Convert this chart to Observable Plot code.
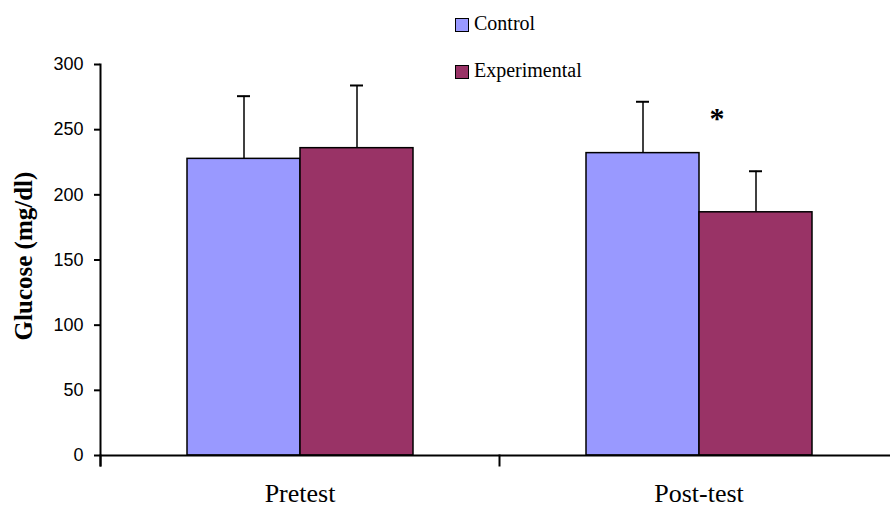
<!DOCTYPE html>
<html>
<head>
<meta charset="utf-8">
<script src="https://cdn.jsdelivr.net/npm/d3@7"></script>
<script src="https://cdn.jsdelivr.net/npm/@observablehq/plot@0.6"></script>
<style>
  html, body { margin: 0; padding: 0; background: #fff; overflow: hidden; }
  #wrap { position: relative; width: 890px; height: 508px; overflow: hidden; }
  #chart { position: absolute; left: 0; top: 0; width: 898px; }
  #chart svg { max-width: none !important; }
  .ylabel { position: absolute; left: 24px; top: 256px; transform: translate(-50%, -50%) rotate(-90deg);
            font-family: "Liberation Serif", "Times New Roman", serif; font-weight: bold; font-size: 25px;
            white-space: nowrap; color: #000; }
  .leg-sw { position: absolute; width: 12px; height: 12px; border: 1px solid #000; }
  .leg-tx { position: absolute; font-family: "Liberation Serif", "Times New Roman", serif; font-size: 20px;
            line-height: 20px; color: #000; white-space: nowrap; }
</style>
</head>
<body>
<div id="wrap">
  <div id="chart"></div>
  <div class="ylabel">Glucose (mg/dl)</div>
  <div id="legend"></div>
</div>
<script>
// ---- data ----
const times = ["Pretest", "Post-test"];
const groups = ["Control", "Experimental"];
const controlMeans = [227.6, 232.0];
const experimentalMeans = [235.8, 186.6];
const controlErrors = [48.1, 39.4];
const experimentalErrors = [48.1, 31.5];
const yTicks = [0, 50, 100, 150, 200, 250, 300];
const colors = ["#9999ff", "#993366"];
const significance = [{time: "Post-test", group: "Experimental", y: 259, label: "*"}];

const rows = [];
times.forEach((t, i) => {
  rows.push({time: t, group: groups[0], value: controlMeans[i], upper: controlMeans[i] + controlErrors[i]});
  rows.push({time: t, group: groups[1], value: experimentalMeans[i], upper: experimentalMeans[i] + experimentalErrors[i]});
});

const plot = Plot.plot({
  width: 898,
  height: 508,
  marginTop: 64,
  marginBottom: 53,
  marginLeft: 100,
  marginRight: 0,
  style: {background: "transparent", overflow: "visible", maxWidth: "none"},
  fx: {domain: times, padding: 0, label: null},
  x: {domain: groups, paddingInner: 0, paddingOuter: 0.76, axis: null},
  y: {domain: [0, 300], axis: null},
  color: {domain: groups, range: colors},
  marks: [
    Plot.barY(rows, {fx: "time", x: "group", y: "value", fill: "group", stroke: "black", strokeWidth: 1.5}),
    Plot.ruleX(rows, {fx: "time", x: "group", y1: "value", y2: "upper", stroke: "black", strokeWidth: 1.5}),
    Plot.tickY(rows, {fx: "time", x: "group", y: "upper", stroke: "black", strokeWidth: 2, insetLeft: 50, insetRight: 50}),
    Plot.text(significance, {fx: "time", x: "group", y: "y", text: "label", dx: -39,
      fontSize: 30, fontWeight: "bold", fontFamily: "Liberation Serif, Times New Roman, serif", fill: "black"}),
    Plot.ruleY([0], {stroke: "black", strokeWidth: 2}),
    Plot.frame({anchor: "left", facetAnchor: "left", stroke: "black", strokeWidth: 2, insetBottom: -10}),
    Plot.frame({anchor: "left", stroke: "black", strokeWidth: 2, insetTop: 391, insetBottom: -10}),
    Plot.axisY({ticks: yTicks, tickSize: 6, tickPadding: 11, strokeWidth: 2, label: null,
      fontSize: 18, fontFamily: "Liberation Sans, Arial, sans-serif", fill: "black"}),
    Plot.axisFx({anchor: "bottom", tickSize: 0, tickPadding: 28, label: null,
      fontSize: 26, fontFamily: "Liberation Serif, Times New Roman, serif", fill: "black"})
  ]
});
document.getElementById("chart").appendChild(plot);

// legend
const legend = document.getElementById("legend");
const legTops = [18, 65];
groups.forEach((g, i) => {
  const sw = document.createElement("div");
  sw.className = "leg-sw";
  sw.style.left = "455px";
  sw.style.top = legTops[i] + "px";
  sw.style.background = colors[i];
  legend.appendChild(sw);
  const tx = document.createElement("div");
  tx.className = "leg-tx";
  tx.style.left = "474px";
  tx.style.top = (legTops[i] - 5) + "px";
  tx.textContent = g;
  legend.appendChild(tx);
});
</script>
</body>
</html>
